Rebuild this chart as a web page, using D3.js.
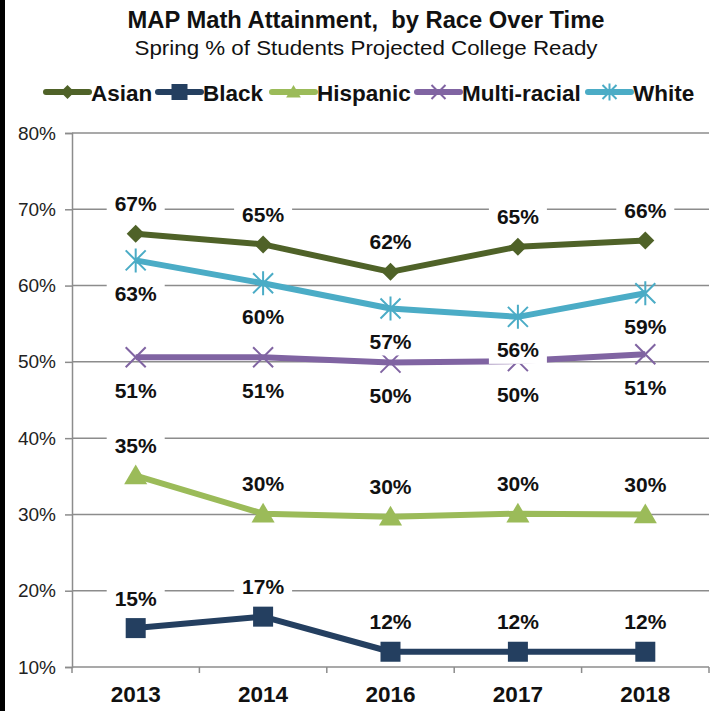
<!DOCTYPE html>
<html><head><meta charset="utf-8">
<script src="https://cdn.jsdelivr.net/npm/d3@7"></script>
<style>body{margin:0;background:#fff}svg{display:block;font-family:"Liberation Sans",Arial,sans-serif}</style>
</head><body>
<script>
const years = ["2013","2014","2016","2017","2018"];
const asian = [66.8, 65.4, 61.8, 65.1, 65.9];
const black = [15.1, 16.6, 12.0, 12.0, 12.0];
const hispanic = [35.1, 30.1, 29.7, 30.1, 30.0];
const multiracial = [50.6, 50.6, 49.9, 50.1, 51.0];
const white = [63.3, 60.3, 57.0, 55.9, 59.0];
const asianLabels = ["67%","65%","62%","65%","66%"];
const blackLabels = ["15%","17%","12%","12%","12%"];
const hispanicLabels = ["35%","30%","30%","30%","30%"];
const multiLabels = ["51%","51%","50%","50%","51%"];
const whiteLabels = ["63%","60%","57%","56%","59%"];
const yTicks = [10,20,30,40,50,60,70,80];

const series = [
  {name:"Asian", values:asian, labels:asianLabels, color:"#4F6228", marker:"diamond", pos:"above"},
  {name:"Black", values:black, labels:blackLabels, color:"#243F60", marker:"square", pos:"above"},
  {name:"Hispanic", values:hispanic, labels:hispanicLabels, color:"#9BBB59", marker:"triangle", pos:"above"},
  {name:"Multi-racial", values:multiracial, labels:multiLabels, color:"#8064A2", marker:"x", pos:"below"},
  {name:"White", values:white, labels:whiteLabels, color:"#4BACC6", marker:"star", pos:"below"}
];

const W=721,H=711;
const svg=d3.select("body").append("svg").attr("width",W).attr("height",H);
svg.append("rect").attr("x",0).attr("y",0).attr("width",5).attr("height",H).attr("fill","#000");

const mLeft=72,mRight=709,mTop=133,mBottom=667;
const x=d3.scaleBand().domain(years).range([mLeft,mRight]);
const y=d3.scaleLinear().domain([10,80]).range([mBottom,mTop]);
const cx=d=>x(d)+x.bandwidth()/2;

// Title
svg.append("text").attr("x",366).attr("y",28).attr("text-anchor","middle")
  .style("white-space","pre")
  .attr("font-size",23.5).attr("font-weight","bold").attr("fill","#111")
  .attr("textLength",477).attr("lengthAdjust","spacingAndGlyphs")
  .text("MAP Math Attainment,  by Race Over Time");
svg.append("text").attr("x",366).attr("y",55).attr("text-anchor","middle")
  .attr("font-size",21).attr("fill","#111")
  .attr("textLength",463).attr("lengthAdjust","spacingAndGlyphs")
  .text("Spring % of Students Projected College Ready");

// gridlines
svg.append("g").selectAll("line").data(yTicks.slice(1)).join("line")
  .attr("x1",mLeft).attr("x2",mRight).attr("y1",d=>y(d)).attr("y2",d=>y(d))
  .attr("stroke","#8c8c8c").attr("stroke-width",1.5);

// axes
const yAxis=d3.axisLeft(y).tickValues(yTicks).tickFormat(d=>d+"%").tickSize(7).tickPadding(9);
const gy=svg.append("g").attr("transform",`translate(${mLeft},0)`).call(yAxis);
gy.select(".domain").attr("stroke","#8c8c8c").attr("stroke-width",1.5);
gy.selectAll(".tick line").attr("stroke","#8c8c8c").attr("stroke-width",1.5);
gy.selectAll(".tick text").attr("font-size",19).attr("fill","#222").attr("font-family","Liberation Sans,Arial,sans-serif");

const gx=svg.append("g").attr("transform",`translate(0,${mBottom})`);
gx.append("line").attr("x1",mLeft).attr("x2",mRight).attr("stroke","#8c8c8c").attr("stroke-width",1.5);
gx.selectAll("line.t").data(d3.range(years.length+1)).join("line").attr("class","t")
  .attr("x1",i=>mLeft+i*x.step()).attr("x2",i=>mLeft+i*x.step()).attr("y1",0).attr("y2",6)
  .attr("stroke","#8c8c8c").attr("stroke-width",1.5);
gx.selectAll("text").data(years).join("text").attr("x",d=>cx(d)).attr("y",35)
  .attr("text-anchor","middle").attr("font-size",22.5).attr("font-weight","bold").attr("fill","#111").text(d=>d);

function drawMarker(g,type,color,px,py,s){
  if(type==="diamond"){
    g.append("path").attr("d",`M${px},${py-s}L${px+s},${py}L${px},${py+s}L${px-s},${py}Z`).attr("fill",color);
  } else if(type==="square"){
    g.append("rect").attr("x",px-s).attr("y",py-s).attr("width",2*s).attr("height",2*s).attr("fill",color);
  } else if(type==="triangle"){
    g.append("path").attr("d",`M${px},${py-s}L${px+s*1.05},${py+s*0.8}L${px-s*1.05},${py+s*0.8}Z`).attr("fill",color);
  } else if(type==="x"){
    g.append("path").attr("d",`M${px-s},${py-s}L${px+s},${py+s}M${px-s},${py+s}L${px+s},${py-s}`).attr("stroke",color).attr("stroke-width",2);
  } else if(type==="star"){
    g.append("path").attr("d",`M${px-s},${py-s}L${px+s},${py+s}M${px-s},${py+s}L${px+s},${py-s}M${px},${py-s*1.2}L${px},${py+s*1.2}`).attr("stroke",color).attr("stroke-width",2);
  }
}
const msize={diamond:9,square:10,triangle:11,x:10,star:10};

const line=d3.line().x((d,i)=>cx(years[i])).y(d=>y(d));
const plotG=svg.append("g");
series.forEach(s=>{
  plotG.append("path").datum(s.values).attr("d",line).attr("fill","none")
    .attr("stroke",s.color).attr("stroke-width",6).attr("stroke-linejoin","round");
  s.values.forEach((v,i)=>drawMarker(plotG,s.marker,s.color,cx(years[i]),y(v),msize[s.marker]));
});

// labels with white boxes
const labG=svg.append("g");
const labY=(s,v)=>y(v)+(s.pos==="above"?-30:33);
series.forEach(s=>{
  s.values.forEach((v,i)=>{
    const px=cx(years[i]), py=labY(s,v);
    labG.append("rect").attr("x",px-29).attr("y",py-14).attr("width",58).attr("height",28).attr("fill","#fff");
  });
});
series.forEach(s=>{
  s.values.forEach((v,i)=>{
    const px=cx(years[i]), py=labY(s,v);
    labG.append("text").attr("x",px).attr("y",py).attr("dy","0.36em").attr("text-anchor","middle")
      .attr("font-size",21).attr("font-weight","bold").attr("fill","#111").text(s.labels[i]);
  });
});

// legend
const legX=[46,158,272,417,588];
const lg=svg.append("g");
series.forEach((s,i)=>{
  const lx=legX[i], ly=92;
  lg.append("line").attr("x1",lx).attr("x2",lx+43).attr("y1",ly).attr("y2",ly)
    .attr("stroke",s.color).attr("stroke-width",6).attr("stroke-linecap","round");
  drawMarker(lg,s.marker,s.color,lx+21.5,ly,s.marker==="square"?8:7);
  lg.append("text").attr("x",lx+45).attr("y",101)
    .attr("font-size",22.5).attr("font-weight","bold").attr("fill","#111").text(s.name);
});
</script>
</body></html>
